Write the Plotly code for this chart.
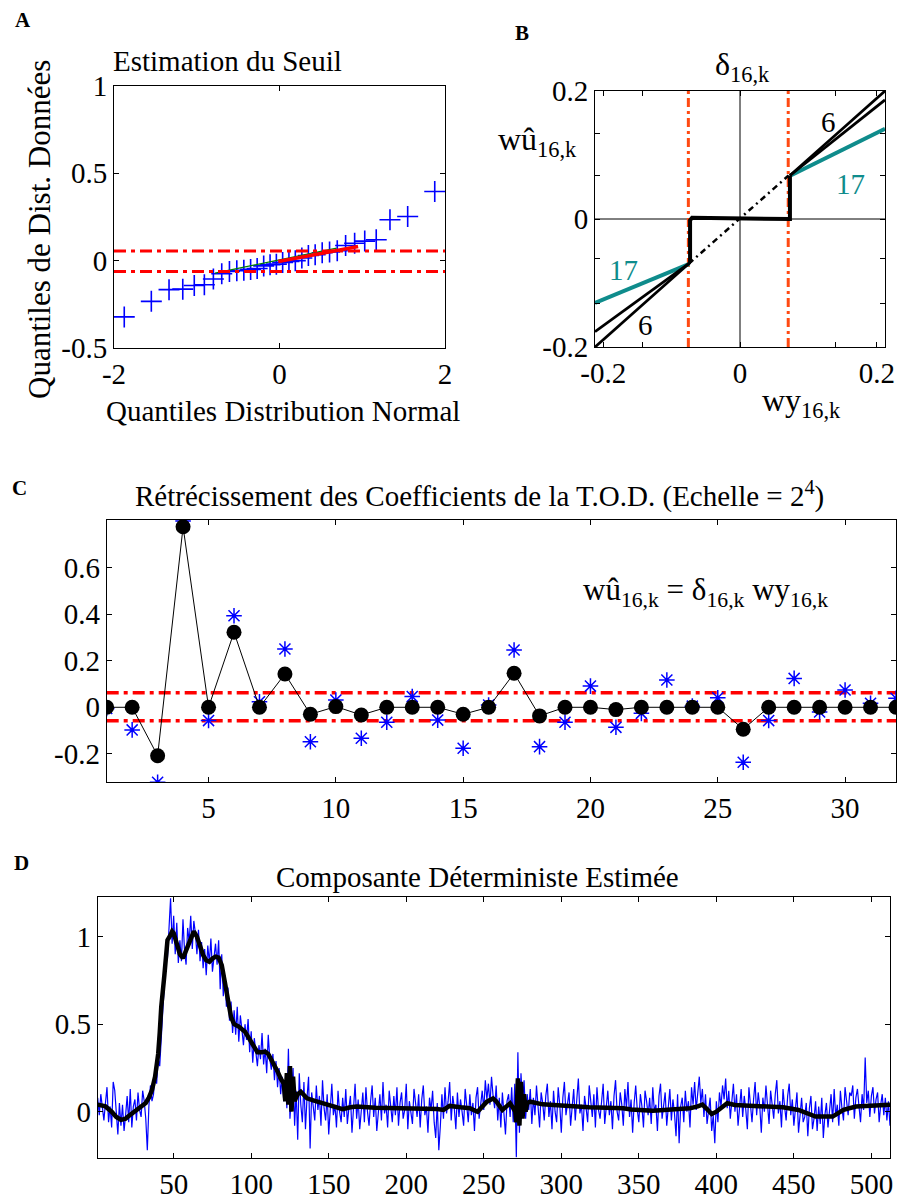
import plotly.graph_objects as go

W, H = 906, 1199
FONT = "Liberation Serif, Times New Roman, serif"

# ---------------- Panel A data (QQ plot) ----------------
qq_x = [-1.876, -1.549, -1.335, -1.169, -1.030, -0.908, -0.799, -0.698, -0.605, -0.516,
        -0.431, -0.349, -0.270, -0.191, -0.114, -0.038, 0.038, 0.114, 0.191, 0.270,
        0.349, 0.431, 0.516, 0.605, 0.698, 0.799, 0.908, 1.030, 1.169, 1.335, 1.549, 1.876]
qq_y = [-0.322, -0.233, -0.166, -0.163, -0.142, -0.138, -0.105, -0.075, -0.062, -0.058,
        -0.055, -0.050, -0.045, -0.030, -0.023, -0.020, -0.010, -0.005, 0.000, 0.015,
        0.030, 0.034, 0.045, 0.050, 0.057, 0.087, 0.100, 0.112, 0.120, 0.234, 0.253, 0.396]
fit_green_x = [-0.78, 0.69]
fit_green_y = [-0.071, 0.072]
fit_red_x = [-0.015, 0.95]
fit_red_y = [-0.005, 0.081]
thrA_up = 0.056
thrA_lo = -0.062

# ---------------- Panel B data (shrinkage functions) ----------------
thrB_lo = -0.0755
thrB_hi = 0.0705
b6a_x = [-0.212, -0.073, None, 0.073, 0.212]
b6a_y = [-0.200, -0.068, None, 0.068, 0.200]
b6b_x = [-0.212, -0.073, None, 0.073, 0.212]
b6b_y = [-0.176, -0.068, None, 0.068, 0.186]
b17_x = [-0.212, -0.074, None, 0.074, 0.212]
b17_y = [-0.131, -0.070, None, 0.068, 0.141]
bstep_x = [-0.073, -0.073, -0.070, 0.067, 0.073, 0.073]
bstep_y = [-0.068, -0.002, 0.002, 0.000, 0.000, 0.068]
bid_x = [-0.075, 0.071]
bid_y = [-0.070, 0.068]

# ---------------- Panel C data (DWT coefficients) ----------------
k_idx = list(range(1, 33))
wy = [-0.005, -0.097, -0.322, 0.800, -0.057, 0.393, 0.024, 0.250, -0.148, 0.031,
      -0.133, -0.064, 0.046, -0.055, -0.176, 0.010, 0.246, -0.169, -0.064, 0.091,
      -0.086, -0.026, 0.117, 0.005, 0.041, -0.236, -0.057, 0.124, -0.020, 0.074,
      0.017, 0.039]
wu = [0.0, 0.0, -0.208, 0.775, 0.0, 0.322, 0.0, 0.143, -0.030, 0.003,
      -0.033, 0.0, 0.0, 0.0, -0.030, 0.0, 0.146, -0.037, 0.0, 0.0,
      -0.010, 0.0, 0.0, 0.0, 0.0, -0.094, 0.0, 0.0, 0.0, 0.0,
      0.0, 0.0]
thrC_up = 0.062
thrC_lo = -0.058

# ---------------- Panel D data (signal + estimate) ----------------
noisy = [
 0.08, -0.02, 0.10, 0.02, -0.05, 0.05, 0.14, -0.06, 0.03, -0.09, 0.17, 0.12, -0.04, -0.13, 0.05, -0.08,
 0.04, -0.11, -0.02, 0.09, -0.06, 0.13, -0.09, 0.03, 0.07, -0.05, 0.11, 0.01, -0.03, 0.12, 0.06, -0.04,
 -0.22, 0.03, 0.15, 0.06, 0.10, 0.22, 0.16, 0.30, 0.26, 0.45, 0.58, 0.72, 0.95, 0.88, 1.05, 1.22,
 0.96, 1.12, 0.90, 1.08, 0.85, 0.98, 0.86, 1.10, 0.92, 0.84, 1.05, 0.97, 1.12, 0.93, 1.09, 1.02,
 0.90, 1.04, 0.86, 0.97, 0.82, 0.93, 0.78, 0.95, 0.85, 0.99, 0.80, 0.88, 0.96, 0.84, 0.98, 0.70,
 0.90, 0.66, 0.78, 0.60, 0.71, 0.52, 0.63, 0.45, 0.58, 0.44, 0.60, 0.40, 0.55, 0.47, 0.38, 0.50,
 0.41, 0.53, 0.34, 0.46, 0.28, 0.42, 0.33, 0.26, 0.38, 0.30, 0.45, 0.27, 0.36, 0.22, 0.44, 0.30,
 0.24, 0.33, 0.18, 0.29, 0.14, 0.25, 0.10, 0.20, 0.06, 0.17, 0.02, 0.36, -0.04, 0.14, 0.25, -0.08,
 0.12, -0.16, 0.22, 0.04, -0.06, 0.17, -0.10, 0.08, 0.20, -0.21, 0.11, 0.03, -0.05, 0.15, 0.01, 0.09,
 -0.08, 0.18, 0.02, -0.05, 0.10, -0.13, 0.06, 0.16, -0.02, 0.04, -0.09, 0.12, 0.00, -0.06, 0.08, -0.03,
 0.13, -0.07, 0.02, 0.09, -0.12, 0.05, 0.16, -0.04, 0.07, -0.10, 0.03, 0.11, -0.06, 0.14, 0.00, -0.08,
 0.06, 0.15, -0.03, 0.08, -0.11, 0.02, 0.10, -0.05, 0.17, -0.01, 0.04, -0.09, 0.12, 0.03, -0.06, 0.09,
 -0.02, 0.14, -0.08, 0.05, 0.11, -0.04, 0.01, 0.16, -0.10, 0.06, 0.00, -0.07, 0.13, 0.04, -0.03, 0.10,
 -0.09, 0.07, 0.15, -0.02, 0.03, -0.12, 0.08, 0.01, 0.12, -0.06, -0.15, 0.05, -0.22, -0.08, 0.10, -0.04,
 0.14, -0.01, 0.06, 0.17, -0.05, 0.09, 0.02, -0.10, 0.11, -0.03, 0.07, 0.00, -0.08, 0.13, 0.04, -0.06,
 0.10, -0.02, 0.05, -0.11, 0.08, 0.14, -0.04, 0.03, 0.12, 0.01, 0.18, 0.07, 0.16, 0.04, 0.20, 0.09,
 0.02, 0.15, -0.05, 0.08, -0.09, 0.11, 0.00, -0.13, 0.06, 0.10, -0.03, 0.14, -0.06, 0.16, -0.26, 0.34,
 -0.12, 0.22, 0.05, 0.18, -0.04, 0.10, 0.01, 0.13, -0.07, 0.08, -0.02, 0.15, 0.03, -0.09, 0.11, 0.05,
 -0.05, 0.09, 0.16, -0.03, 0.06, -0.10, 0.12, 0.00, -0.06, 0.14, 0.04, -0.12, 0.08, 0.17, -0.02, 0.05,
 0.11, -0.08, 0.03, 0.13, -0.05, 0.07, 0.19, -0.01, 0.04, -0.11, 0.09, 0.02, -0.06, 0.15, 0.06, -0.03,
 0.10, -0.09, 0.14, 0.01, -0.04, 0.08, 0.16, -0.07, 0.03, 0.12, -0.02, 0.06, -0.10, 0.09, 0.18, 0.00,
 -0.05, 0.11, 0.04, -0.08, 0.13, 0.02, 0.17, -0.03, 0.07, -0.12, 0.05, 0.15, 0.01, -0.06, 0.10, 0.03,
 -0.09, 0.12, 0.06, -0.02, 0.08, -0.07, 0.14, 0.00, 0.04, -0.11, 0.09, 0.16, -0.04, 0.05, 0.11, -0.08,
 0.02, 0.13, -0.05, 0.07, -0.01, -0.14, 0.10, -0.18, 0.03, 0.08, -0.06, 0.12, 0.00, 0.06, -0.09, 0.14,
 0.04, 0.17, 0.01, 0.09, 0.20, 0.05, 0.13, -0.03, 0.10, -0.07, 0.02, 0.08, -0.11, -0.02, -0.18, 0.06,
 -0.06, 0.11, 0.03, 0.15, 0.07, 0.19, 0.02, 0.12, -0.04, 0.08, 0.16, 0.00, 0.10, -0.08, 0.05, 0.13,
 -0.03, 0.09, 0.01, -0.10, 0.14, 0.04, -0.06, 0.07, 0.17, -0.02, 0.11, 0.03, -0.12, 0.08, 0.00, 0.15,
 0.05, -0.07, 0.12, 0.02, -0.04, 0.10, 0.18, -0.01, 0.06, -0.09, 0.13, 0.03, -0.05, 0.09, 0.16, -0.02,
 0.07, -0.08, 0.04, 0.11, -0.12, 0.01, 0.08, -0.06, -0.03, 0.05, -0.14, 0.02, 0.09, -0.10, -0.04, 0.06,
 -0.11, 0.03, -0.07, 0.08, -0.15, -0.02, 0.05, -0.09, 0.01, 0.10, -0.06, 0.13, -0.03, 0.04, -0.08, 0.12,
 0.02, -0.05, 0.14, 0.06, -0.02, 0.11, 0.09, 0.15, -0.04, 0.08, 0.13, 0.03, -0.06, 0.10, 0.01, 0.31,
 0.05, 0.12, -0.03, 0.09, 0.14, -0.01, 0.07, 0.11, -0.06, 0.04, 0.10, -0.02, 0.08, -0.05, 0.06, -0.08,
]
n_idx = list(range(1, len(noisy) + 1))

est_x = [1, 6, 10, 13, 16, 19, 21, 26, 30, 32, 34, 36, 38, 40, 41, 42, 44, 45, 46, 48, 49, 50,
         52, 54, 56, 58, 60, 62, 63, 65, 67, 69, 71, 73, 75, 77, 79, 81, 83, 85, 87, 89, 92, 96,
         98, 101, 104, 107, 109, 111, 113, 115, 117, 119, 120, 121, 122, 123, 124, 125, 126, 127,
         128, 129, 130, 132, 134, 136, 140, 146, 152, 159, 164, 168, 180, 190, 211, 220, 224, 228,
         235, 241, 246, 249, 252, 256, 258, 262, 265, 267, 269, 270, 271, 272, 273, 274, 275, 276,
         277, 278, 280, 288, 300, 318, 340, 345, 359, 370, 383, 388, 391, 394, 397, 400, 404, 407,
         412, 425, 443, 453, 458, 464, 475, 479, 482, 490, 500, 507, 512]
est_y = [0.04, 0.03, 0.0, -0.03, -0.047, -0.04, -0.025, 0.01, 0.035, 0.05, 0.08, 0.124, 0.2, 0.33,
         0.45, 0.6, 0.78, 0.9, 0.98, 1.01, 1.03, 1.02, 0.96, 0.9, 0.877, 0.92, 0.96, 1.01, 1.03,
         1.0, 0.95, 0.895, 0.865, 0.857, 0.875, 0.886, 0.88, 0.838, 0.74, 0.63, 0.54, 0.5, 0.486,
         0.457, 0.43, 0.385, 0.34, 0.34, 0.343, 0.33, 0.3, 0.26, 0.23, 0.19, 0.17, 0.16, 0.06, 0.22,
         0.04, 0.26, 0.0, 0.2, 0.06, 0.09, 0.1, 0.114, 0.09, 0.076, 0.065, 0.048, 0.035, 0.014,
         0.025, 0.03, 0.022, 0.02, 0.02, 0.015, 0.01, 0.033, 0.025, 0.02, 0.0, 0.03, 0.057, 0.075,
         0.06, 0.01, 0.03, 0.048, 0.02, 0.03, -0.06, 0.19, -0.08, 0.17, -0.04, 0.1, 0.0, 0.05,
         0.057, 0.042, 0.035, 0.025, 0.02, 0.012, 0.006, 0.01, 0.02, 0.03, 0.04, 0.015, -0.013,
         0.0, 0.03, 0.048, 0.038, 0.033, 0.025, 0.01, -0.01, -0.028, -0.028, -0.01, 0.01, 0.029,
         0.036, 0.038, 0.04]

# tick values / labels
A_xt = [-2, 0, 2]
A_yt = [-0.5, 0, 0.5, 1]
B_xt = [-0.2, 0, 0.2]
B_yt = [-0.2, 0, 0.2]
B_xminor = [-0.143, 0.140]
B_yminor = [-0.132, -0.061, 0.068, 0.134]
C_xt = [5, 10, 15, 20, 25, 30]
C_yt = [-0.2, 0, 0.2, 0.4, 0.6]
D_xt = [50, 100, 150, 200, 250, 300, 350, 400, 450, 500]
D_yt = [0, 0.5, 1]


def lab(vals):
    return [("%g" % v) for v in vals]


def px(x, y):
    return x / W, 1 - y / H


def dom_x(a, b):
    return [a / W, b / W]


def dom_y(top, bottom):
    return [1 - bottom / H, 1 - top / H]


fig = go.Figure()

BLUE = "#0000ff"
RED = "#ff0000"
ORANGE = "#ff4a12"
TEAL = "#0f8c8c"
TS = 29  # general text size

# Panel A
fig.add_trace(go.Scatter(x=qq_x, y=qq_y, mode="markers", xaxis="x", yaxis="y",
                         marker=dict(symbol="cross-thin-open", size=15, color=BLUE,
                                     line=dict(color=BLUE, width=1.6))))
fig.add_trace(go.Scatter(x=fit_green_x, y=fit_green_y, mode="lines", xaxis="x", yaxis="y",
                         line=dict(color="#008000", width=1.2)))
fig.add_trace(go.Scatter(x=fit_red_x, y=fit_red_y, mode="lines", xaxis="x", yaxis="y",
                         line=dict(color=RED, width=3.5)))
for t in (thrA_up, thrA_lo):
    fig.add_trace(go.Scatter(x=[-2, 2], y=[t, t], mode="lines", xaxis="x", yaxis="y",
                             line=dict(color=RED, width=3, dash="12px,5px,4px,5px")))

# Panel B
fig.add_trace(go.Scatter(x=[0, 0], y=[-0.2, 0.2], mode="lines", xaxis="x2", yaxis="y2",
                         line=dict(color="black", width=1)))
fig.add_trace(go.Scatter(x=[-0.212, 0.212], y=[0, 0], mode="lines", xaxis="x2", yaxis="y2",
                         line=dict(color="black", width=1)))
for t in (thrB_lo, thrB_hi):
    fig.add_trace(go.Scatter(x=[t, t], y=[-0.2, 0.2], mode="lines", xaxis="x2", yaxis="y2",
                             line=dict(color=ORANGE, width=3, dash="9px,4px,3px,4px")))
fig.add_trace(go.Scatter(x=bid_x, y=bid_y, mode="lines", xaxis="x2", yaxis="y2",
                         line=dict(color="black", width=2.5, dash="6px,4px,2px,4px")))
fig.add_trace(go.Scatter(x=b17_x, y=b17_y, mode="lines", xaxis="x2", yaxis="y2",
                         line=dict(color=TEAL, width=4)))
fig.add_trace(go.Scatter(x=b6a_x, y=b6a_y, mode="lines", xaxis="x2", yaxis="y2",
                         line=dict(color="black", width=2.8)))
fig.add_trace(go.Scatter(x=b6b_x, y=b6b_y, mode="lines", xaxis="x2", yaxis="y2",
                         line=dict(color="black", width=2.8)))
fig.add_trace(go.Scatter(x=bstep_x, y=bstep_y, mode="lines", xaxis="x2", yaxis="y2",
                         line=dict(color="black", width=4)))

# Panel C
for t in (thrC_up, thrC_lo):
    fig.add_trace(go.Scatter(x=[1, 32], y=[t, t], mode="lines", xaxis="x3", yaxis="y3",
                             line=dict(color=RED, width=3.5, dash="12px,5px,4px,5px")))
fig.add_trace(go.Scatter(x=k_idx, y=wy, mode="markers", xaxis="x3", yaxis="y3",
                         marker=dict(symbol="asterisk-open", size=13, color=BLUE,
                                     line=dict(color=BLUE, width=1.5))))
fig.add_trace(go.Scatter(x=k_idx, y=wu, mode="lines+markers", xaxis="x3", yaxis="y3",
                         line=dict(color="black", width=1),
                         marker=dict(symbol="circle", size=15, color="black")))

# Panel D
fig.add_trace(go.Scatter(x=n_idx, y=noisy, mode="lines", xaxis="x4", yaxis="y4",
                         line=dict(color=BLUE, width=1.2)))
fig.add_trace(go.Scatter(x=est_x, y=est_y, mode="lines", xaxis="x4", yaxis="y4",
                         line=dict(color="black", width=4.5)))

axis_common = dict(showgrid=False, zeroline=False, showline=True, linecolor="black",
                   linewidth=1, mirror="ticks", ticks="inside", ticklen=5,
                   tickcolor="black", tickwidth=1, automargin=False,
                   tickfont=dict(family=FONT, size=TS, color="black"))
minor_common = dict(ticks="inside", ticklen=5, tickcolor="black", tickwidth=1, showgrid=False)

fig.update_layout(
    template="none",
    width=W, height=H, margin=dict(l=0, r=0, t=0, b=0, pad=0, autoexpand=False),
    paper_bgcolor="white", plot_bgcolor="white", showlegend=False,
    font=dict(family=FONT, size=TS, color="black"),
    xaxis=dict(domain=dom_x(114, 445), range=[-2, 2], anchor="y",
               tickvals=A_xt, ticktext=lab(A_xt), **axis_common),
    yaxis=dict(domain=dom_y(86, 348), range=[-0.5, 1], anchor="x",
               tickvals=A_yt, ticktext=lab(A_yt), **axis_common),
    xaxis2=dict(domain=dom_x(595, 885), range=[-0.212, 0.212], anchor="y2",
                tickvals=B_xt, ticktext=lab(B_xt),
                minor=dict(tickvals=B_xminor, **minor_common), **axis_common),
    yaxis2=dict(domain=dom_y(91, 347), range=[-0.2, 0.2], anchor="x2",
                tickvals=B_yt, ticktext=lab(B_yt),
                minor=dict(tickvals=B_yminor, **minor_common), **axis_common),
    xaxis3=dict(domain=dom_x(106.7, 896), range=[1, 32], anchor="y3",
                tickvals=C_xt, ticktext=lab(C_xt), **axis_common),
    yaxis3=dict(domain=dom_y(520, 782.3), range=[-0.322, 0.804], anchor="x3",
                tickvals=C_yt, ticktext=lab(C_yt), **axis_common),
    xaxis4=dict(domain=dom_x(97.7, 890), range=[1, 512], anchor="y4",
                tickvals=D_xt, ticktext=lab(D_xt), **axis_common),
    yaxis4=dict(domain=dom_y(897.3, 1157.7), range=[-0.263, 1.225], anchor="x4",
                tickvals=D_yt, ticktext=lab(D_yt), **axis_common),
)


def ann(text, x, y, size=TS, color="black", angle=0, bold=False, ref=None):
    if bold:
        text = "<b>" + text + "</b>"
    if ref is None:
        xx, yy = px(x, y)
        xr, yr = "paper", "paper"
    else:
        xx, yy = x, y
        xr, yr = ref
    fig.add_annotation(text=text, x=xx, y=yy, xref=xr, yref=yr,
                       showarrow=False, xanchor="center", yanchor="middle",
                       textangle=angle, font=dict(family=FONT, size=size, color=color))


# panel letters
ann("A", 23, 20, size=21, bold=True)
ann("B", 522, 33, size=21, bold=True)
ann("C", 19, 488, size=21, bold=True)
ann("D", 21, 863, size=21, bold=True)

# panel A texts
ann("Estimation du Seuil", 227, 61)
ann("Quantiles Distribution Normal", 283, 411)
ann("Quantiles de Dist. Données", 40, 230, size=31, angle=-90)

# panel B texts
ann("δ<sub>16,k</sub>", 742, 66, size=32)
ann("wû<sub>16,k</sub>", 537, 142, size=32)
ann("wy<sub>16,k</sub>", 801, 402, size=32)
ann("6", 0.130, 0.152, ref=("x2", "y2"))
ann("6", -0.138, -0.166, ref=("x2", "y2"))
ann("17", 0.162, 0.055, color=TEAL, ref=("x2", "y2"))
ann("17", -0.171, -0.080, color=TEAL, ref=("x2", "y2"))

# panel C texts
ann("Rétrécissement des Coefficients de la T.O.D. (Echelle = 2<sup>4</sup>)", 479, 495)
ann("wû<sub>16,k</sub> = δ<sub>16,k</sub> wy<sub>16,k</sub>", 705, 592, size=31)

# panel D texts
ann("Composante Déterministe Estimée", 477, 877)

fig.write_html("out.html")
